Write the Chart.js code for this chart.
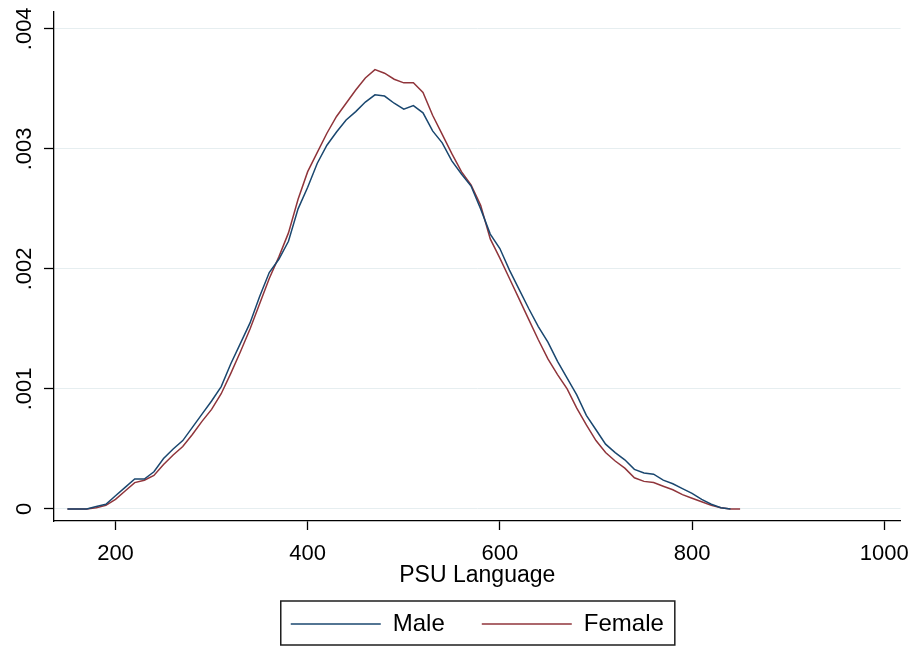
<!DOCTYPE html>
<html>
<head>
<meta charset="utf-8">
<title>PSU Language density by sex</title>
<script src="https://cdn.jsdelivr.net/npm/chart.js@4.4.1/dist/chart.umd.min.js"></script>
<style>
  html, body { margin: 0; padding: 0; background: #fff; }
  #wrap { width: 920px; height: 647px; position: relative; }
</style>
</head>
<body>
<div id="wrap"><canvas id="densityChart"></canvas></div>
<script>
// PSU Language score grid and kernel density estimates
const psuScores = [150, 160, 170, 180, 190, 200, 210, 220, 230, 240,
                   250, 260, 270, 280, 290, 300, 310, 320, 330, 340,
                   350, 360, 370, 380, 390, 400, 410, 420, 430, 440,
                   450, 460, 470, 480, 490, 500, 510, 520, 530, 540,
                   550, 560, 570, 580, 590, 600, 610, 620, 630, 640,
                   650, 660, 670, 680, 690, 700, 710, 720, 730, 740,
                   750, 760, 770, 780, 790, 800, 810, 820, 830, 840, 850];

const maleDensity = [0, 0, 0, 0.00002, 0.00004, 0.00011, 0.00018, 0.00025, 0.00025, 0.00031,
                     0.00042, 0.00050, 0.00057, 0.00068, 0.00079, 0.00090, 0.00102, 0.00121, 0.00138, 0.00155,
                     0.00177, 0.00197, 0.00208, 0.00223, 0.00250, 0.00268, 0.00288, 0.00303, 0.00314, 0.00324,
                     0.00331, 0.00339, 0.00345, 0.00344, 0.00338, 0.00333, 0.00336, 0.00330, 0.00315, 0.00305,
                     0.00290, 0.00279, 0.00269, 0.00250, 0.00229, 0.00217, 0.00199, 0.00183, 0.00167, 0.00152,
                     0.00139, 0.00123, 0.00109, 0.00095, 0.00078, 0.00066, 0.00054, 0.00047, 0.00041, 0.00033,
                     0.00030, 0.00029, 0.00024, 0.00021, 0.00017, 0.00013, 0.00008, 0.00004, 0.00001, 0, null];

const femaleDensity = [0, 0, 0, 0.00001, 0.00003, 0.00008, 0.00015, 0.00022, 0.00024, 0.00028,
                       0.00037, 0.00045, 0.00052, 0.00062, 0.00073, 0.00083, 0.00096, 0.00113, 0.00131, 0.00150,
                       0.00171, 0.00192, 0.00210, 0.00230, 0.00258, 0.00281, 0.00297, 0.00313, 0.00327, 0.00338,
                       0.00349, 0.00359, 0.00366, 0.00363, 0.00358, 0.00355, 0.00355, 0.00347, 0.00328, 0.00312,
                       0.00296, 0.00281, 0.00270, 0.00253, 0.00225, 0.00209, 0.00192, 0.00175, 0.00158, 0.00141,
                       0.00125, 0.00112, 0.00100, 0.00084, 0.00070, 0.00057, 0.00047, 0.00040, 0.00034, 0.00026,
                       0.00023, 0.00022, 0.00019, 0.00016, 0.00012, 0.00009, 0.00006, 0.00003, 0.00001, 0, 0];

const xTicks = [200, 400, 600, 800, 1000];
const yTicks = [0, 0.001, 0.002, 0.003, 0.004];
const yTickLabels = ['0', '.001', '.002', '.003', '.004'];

const FONT = "'Liberation Sans', Arial, sans-serif";

// Stata draws a frame around the legend keys
const legendFrame = {
    id: 'legendFrame',
    afterDraw(chart) {
        const boxes = chart.legend && chart.legend.legendHitBoxes;
        if (!boxes || !boxes.length) return;
        const left = Math.min(...boxes.map(b => b.left));
        const right = Math.max(...boxes.map(b => b.left + b.width));
        const top = boxes[0].top;
        const h = boxes[0].height;
        const ctx = chart.ctx;
        ctx.save();
        ctx.strokeStyle = '#1e1e1e';
        ctx.lineWidth = 1.5;
        ctx.strokeRect(left - 10, top - 11, right - left + 21, h + 20);
        ctx.restore();
    }
};

document.addEventListener('DOMContentLoaded', () => {
    const ctx = document.getElementById('densityChart').getContext('2d');

    new Chart(ctx, {
        type: 'line',
        data: {
            datasets: [{
                label: 'Male',
                data: psuScores.map((x, i) => ({ x: x, y: maleDensity[i] })),
                borderColor: '#1a476f',
                backgroundColor: '#1a476f',
                borderWidth: 1.5,
                pointRadius: 0,
                tension: 0,
                fill: false
            }, {
                label: 'Female',
                data: psuScores.map((x, i) => ({ x: x, y: femaleDensity[i] })),
                borderColor: '#90353b',
                backgroundColor: '#90353b',
                borderWidth: 1.5,
                pointRadius: 0,
                tension: 0,
                fill: false
            }]
        },
        options: {
            responsive: true,
            maintainAspectRatio: false,
            animation: false,
            layout: { padding: { top: 12, right: 15, bottom: 1, left: 0 } },
            scales: {
                x: {
                    type: 'linear',
                    min: 136,
                    max: 1017,
                    afterBuildTicks: s => { s.ticks = xTicks.map(v => ({ value: v })); },
                    afterFit: s => { s.height = 54; },
                    grid: { drawOnChartArea: false, tickLength: 9, tickColor: '#000', tickWidth: 1.3 },
                    border: { color: '#000', width: 1.3 },
                    ticks: {
                        color: '#000',
                        font: { family: FONT, size: 22 },
                        padding: 11,
                        maxRotation: 0,
                        callback: v => String(v)
                    },
                    title: {
                        display: true,
                        text: 'PSU Language',
                        color: '#000',
                        font: { family: FONT, size: 23 },
                        padding: { top: 0, bottom: -14 }
                    }
                },
                y: {
                    min: -0.0001,
                    max: 0.00414,
                    afterBuildTicks: s => { s.ticks = yTicks.map(v => ({ value: v })); },
                    afterFit: s => { s.width = 54; },
                    grid: { color: '#e6eef0', lineWidth: 1, tickLength: 10, tickColor: '#000', tickWidth: 1.3 },
                    border: { color: '#000', width: 1.3 },
                    ticks: {
                        color: '#000',
                        font: { family: FONT, size: 22 },
                        minRotation: 90,
                        maxRotation: 90,
                        crossAlign: 'center',
                        padding: -2,
                        callback: v => yTickLabels[yTicks.indexOf(v)]
                    }
                }
            },
            plugins: {
                legend: {
                    position: 'bottom',
                    fullSize: false,
                    labels: {
                        usePointStyle: true,
                        pointStyle: 'line',
                        pointStyleWidth: 90,
                        padding: 37,
                        color: '#000',
                        font: { family: FONT, size: 24 }
                    }
                },
                tooltip: { enabled: false }
            }
        },
        plugins: [legendFrame]
    });
});
</script>
</body>
</html>
